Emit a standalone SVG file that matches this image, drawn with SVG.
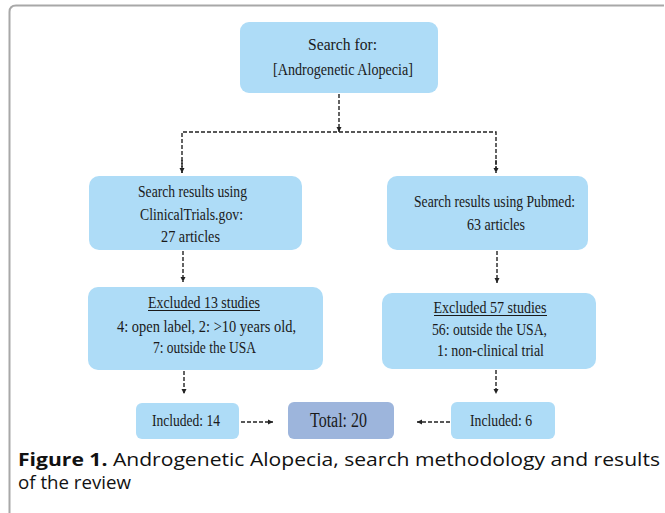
<svg xmlns="http://www.w3.org/2000/svg" width="665" height="513" viewBox="0 0 665 513">
<defs>
<style>
.box{fill:#AEDCF7;}
.tot{fill:#9DB5DC;}
.t{font-family:"Liberation Serif","Times New Roman",serif;font-size:17.5px;fill:#1a1a1a;text-anchor:middle;}
.c{fill:none;stroke:#222;stroke-width:1.4;stroke-dasharray:4 2;}
.cap{font-family:"Open Sans","Noto Sans","Liberation Sans",sans-serif;font-size:18.5px;fill:#111;}
.ul{stroke:#1a1a1a;stroke-width:1;}
</style>
<marker id="ah" markerWidth="6" markerHeight="6" refX="5" refY="3" orient="auto" markerUnits="userSpaceOnUse">
<path d="M0,0.5 L5,3 L0,5.5 Z" fill="#222"/>
</marker>
</defs>
<rect width="665" height="513" fill="#fff"/>
<path d="M9.5,513 V12 Q9.5,5.5 16,5.5 H664" fill="none" stroke="#a8a8a8" stroke-width="2"/>

<g id="connectors">
<path class="c" d="M339,94 V132" marker-end="url(#ah)"/>
<path class="c" d="M182,173 V132 H496 V173"/>
<path class="c" d="M182,160 V173" marker-end="url(#ah)"/>
<path class="c" d="M496,160 V173" marker-end="url(#ah)"/>
<path class="c" d="M183,251 V282" marker-end="url(#ah)"/>
<path class="c" d="M497,251 V283" marker-end="url(#ah)"/>
<path class="c" d="M184,371 V394" marker-end="url(#ah)"/>
<path class="c" d="M496,370 V394" marker-end="url(#ah)"/>
<path class="c" d="M241,422 H273" marker-end="url(#ah)"/>
<path class="c" d="M450,422 H417" marker-end="url(#ah)"/>
</g>

<g id="search">
<rect class="box" x="240" y="22" width="198" height="71" rx="9"/>
<text class="t" x="342.5" y="50" textLength="69" lengthAdjust="spacingAndGlyphs">Search for:</text>
<text class="t" x="343" y="75" textLength="140" lengthAdjust="spacingAndGlyphs">[Androgenetic Alopecia]</text>
</g>

<g id="ct">
<rect class="box" x="89" y="176" width="213" height="74" rx="10"/>
<text class="t" x="192.5" y="197" textLength="109" lengthAdjust="spacingAndGlyphs">Search results using</text>
<text class="t" x="191.5" y="220" textLength="103" lengthAdjust="spacingAndGlyphs">ClinicalTrials.gov:</text>
<text class="t" x="190.5" y="242" textLength="59" lengthAdjust="spacingAndGlyphs">27 articles</text>
</g>

<g id="pubmed">
<rect class="box" x="387" y="176" width="201" height="74" rx="10"/>
<text class="t" x="494.5" y="207" textLength="161" lengthAdjust="spacingAndGlyphs">Search results using Pubmed:</text>
<text class="t" x="496" y="230" textLength="58" lengthAdjust="spacingAndGlyphs">63 articles</text>
</g>

<g id="excl13">
<rect class="box" x="88" y="287" width="235" height="83" rx="10"/>
<text class="t" x="204" y="308" textLength="112" lengthAdjust="spacingAndGlyphs">Excluded 13 studies</text>
<line class="ul" x1="148" y1="310.5" x2="260" y2="310.5"/>
<text class="t" x="206.5" y="332" textLength="179" lengthAdjust="spacingAndGlyphs">4: open label, 2: &gt;10 years old,</text>
<text class="t" x="204.5" y="353" textLength="103" lengthAdjust="spacingAndGlyphs">7: outside the USA</text>
</g>

<g id="excl57">
<rect class="box" x="382" y="293" width="214" height="76" rx="10"/>
<text class="t" x="490" y="313" textLength="113" lengthAdjust="spacingAndGlyphs">Excluded 57 studies</text>
<line class="ul" x1="434" y1="315.5" x2="547" y2="315.5"/>
<text class="t" x="489.5" y="335" textLength="115" lengthAdjust="spacingAndGlyphs">56: outside the USA,</text>
<text class="t" x="490.5" y="356" textLength="107" lengthAdjust="spacingAndGlyphs">1: non-clinical trial</text>
</g>

<g id="inc14">
<rect class="box" x="136" y="403" width="103" height="36" rx="6"/>
<text class="t" x="186" y="426" textLength="68" lengthAdjust="spacingAndGlyphs">Included: 14</text>
</g>

<g id="total">
<rect class="tot" x="288" y="402" width="106" height="37" rx="6"/>
<text class="t" x="338.5" y="427" style="font-size:20px" textLength="57" lengthAdjust="spacingAndGlyphs">Total: 20</text>
</g>

<g id="inc6">
<rect class="box" x="451" y="402" width="104" height="37" rx="6"/>
<text class="t" x="501" y="426" textLength="62" lengthAdjust="spacingAndGlyphs">Included: 6</text>
</g>

<text class="cap" x="18" y="466" textLength="642" lengthAdjust="spacingAndGlyphs"><tspan font-weight="bold">Figure 1.</tspan> Androgenetic Alopecia, search methodology and results</text>
<text class="cap" x="18" y="489" textLength="113" lengthAdjust="spacingAndGlyphs">of the review</text>
</svg>
